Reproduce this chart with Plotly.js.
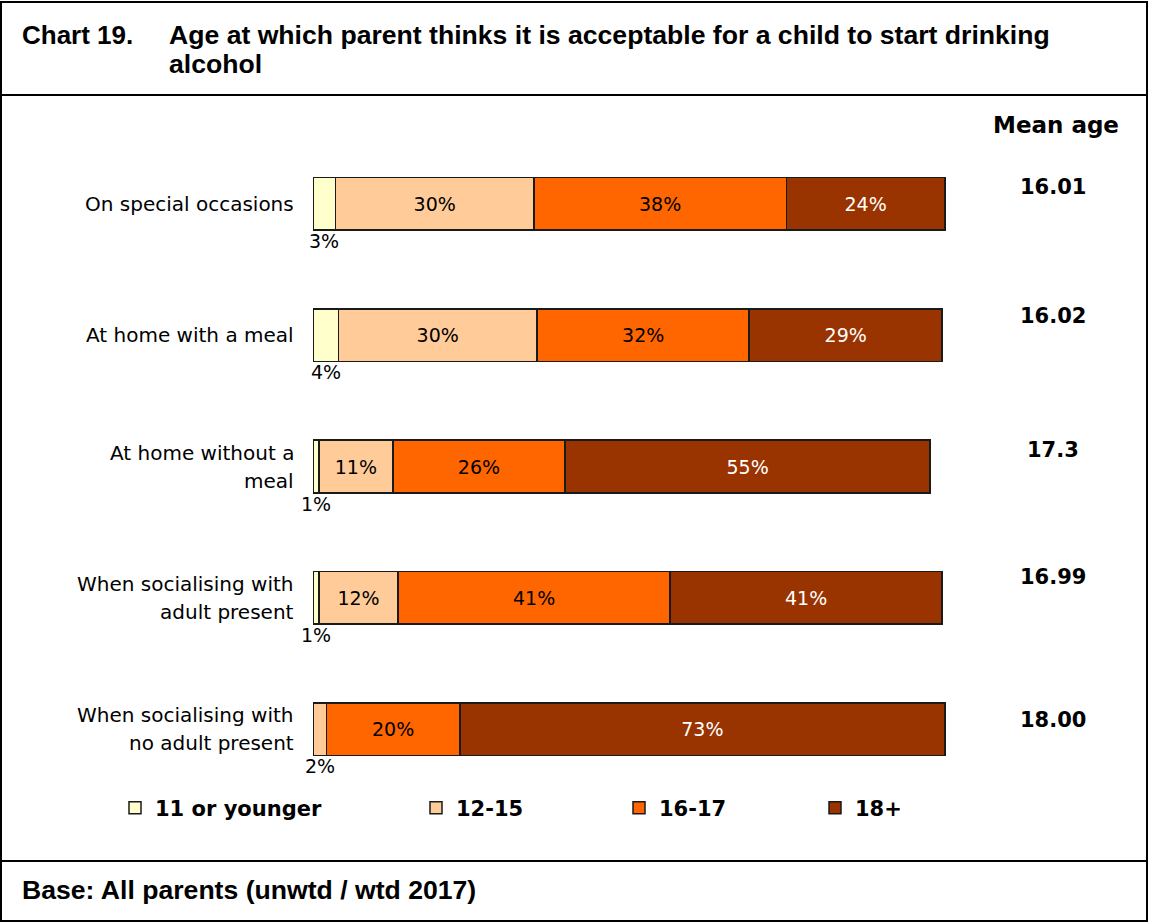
<!DOCTYPE html>
<html>
<head>
<meta charset="utf-8">
<script src="https://cdn.plot.ly/plotly-3.0.1.min.js"></script>
<style>
html,body{margin:0;padding:0;background:#fff;}
#chart{width:1149px;height:923px;}
</style>
</head>
<body>
<div id="chart"></div>
<script>
// ---- data ----
const categories = ["On special occasions", "At home with a meal", "At home without a<br>meal", "When socialising with<br>adult present", "When socialising with<br>no adult present"];
const seriesNames = ["11 or younger", "12-15", "16-17", "18+"];
const age11OrYounger = [3.4, 3.8, 0.9, 0.9, 0];
const age12to15 = [29.8, 29.9, 11.1, 11.9, 2.0];
const age16to17 = [38.0, 31.9, 25.9, 40.9, 20.1];
const age18plus = [23.8, 29.0, 54.9, 40.9, 72.9];
const meanAge = ["16.01", "16.02", "17.3", "16.99", "18.00"];
const chartTitleLines = ["Age at which parent thinks it is acceptable for a child to start drinking", "alcohol"];
const chartNumber = "Chart 19.";
const baseText = "Base: All parents (unwtd / wtd 2017)";
const meanHeader = "Mean age";

// ---- styling / layout constants ----
const W = 1149, H = 923;
const M = {l: 313, r: 171, t: 138, b: 128};
const PW = W - M.l - M.r, PH = H - M.t - M.b;
const px2x = p => (p - M.l) / PW;
const px2y = p => 1 - (p - M.t) / PH;
const colors = ["#FFFFCC", "#FFCC99", "#FF6600", "#993300"];
const textColors = ["#000000", "#000000", "#000000", "#FFFFFF"];
const FONT = "DejaVu Sans, Verdana, sans-serif";
const ARIAL = "Liberation Sans, Arial, sans-serif";
const meanShift = [17, 19, 17, 21, 9];
const legendX = [115, 416, 619, 815];
const titleLineY = [35, 64];

const series = [age11OrYounger, age12to15, age16to17, age18plus];

const traces = series.map((vals, i) => ({
  type: "bar",
  orientation: "h",
  name: seriesNames[i],
  y: categories,
  x: vals,
  width: 0.4,
  marker: {color: colors[i], line: {color: "#1a1a1a", width: 1.5}},
  text: vals.map(v => v >= 5 ? Math.round(v) + "%" : ""),
  textposition: "inside",
  insidetextanchor: "middle",
  textangle: 0,
  constraintext: "none",
  textfont: {family: FONT, size: 19, color: textColors[i]},
  hoverinfo: "none",
  legend: i === 0 ? "legend" : "legend" + (i + 1)
}));

const annotations = [];
// title
annotations.push({xref: "paper", yref: "paper", x: px2x(20), y: px2y(titleLineY[0]), xanchor: "left", yanchor: "middle",
  text: "<b>" + chartNumber + "</b>", showarrow: false, font: {family: ARIAL, size: 26, color: "#000"}});
chartTitleLines.forEach((t, k) => {
  annotations.push({xref: "paper", yref: "paper", x: px2x(167), y: px2y(titleLineY[k]), xanchor: "left", yanchor: "middle", align: "left",
    text: "<b>" + t + "</b>", showarrow: false, font: {family: ARIAL, size: 26.6, color: "#000"}});
});
// footer
annotations.push({xref: "paper", yref: "paper", x: px2x(20), y: px2y(890), xanchor: "left", yanchor: "middle",
  text: "<b>" + baseText + "</b>", showarrow: false, font: {family: ARIAL, size: 26.6, color: "#000"}});
// mean header
annotations.push({xref: "paper", yref: "paper", x: px2x(1056), y: px2y(125), xanchor: "center", yanchor: "middle",
  text: "<b>" + meanHeader + "</b>", showarrow: false, font: {family: FONT, size: 23, color: "#000"}});
// category labels (two lines with wider spacing)
categories.forEach((c, r) => {
  const lines = c.split("<br>");
  const n = lines.length;
  lines.forEach((ln, k) => {
    annotations.push({xref: "paper", yref: "y", x: px2x(296), y: c, xanchor: "right", yanchor: "middle",
      yshift: ((n - 1) / 2 - k) * 28, text: ln, showarrow: false, font: {family: FONT, size: 20, color: "#000"}});
  });
  // mean age
  annotations.push({xref: "paper", yref: "y", x: px2x(1053), y: c, xanchor: "center", yanchor: "middle",
    yshift: meanShift[r], text: "<b>" + meanAge[r] + "</b>", showarrow: false, font: {family: FONT, size: 21, color: "#000"}});
  // small segment labels below bars
  let start = 0;
  series.forEach((vals, i) => {
    const v = vals[r];
    if (v > 0 && v < 5) {
      annotations.push({xref: "x", yref: "y", x: start + v / 2, y: c, xanchor: "center", yanchor: "middle",
        yshift: -37, text: Math.round(v) + "%", showarrow: false, font: {family: FONT, size: 19, color: "#000"}});
    }
    start += v;
  });
});

const lineStyle = {color: "#000", width: 2};
const shapes = [
  {type: "rect", xref: "paper", yref: "paper", x0: px2x(1), x1: px2x(1147), y0: px2y(2), y1: px2y(921), line: lineStyle},
  {type: "line", xref: "paper", yref: "paper", x0: px2x(1), x1: px2x(1147), y0: px2y(95), y1: px2y(95), line: lineStyle},
  {type: "line", xref: "paper", yref: "paper", x0: px2x(1), x1: px2x(1147), y0: px2y(861), y1: px2y(861), line: lineStyle}
];

const layout = {
  width: W, height: H,
  margin: M,
  paper_bgcolor: "#fff", plot_bgcolor: "#fff",
  barmode: "stack",
  showlegend: true,
  xaxis: {range: [0, 100], visible: false, fixedrange: true},
  yaxis: {type: "category", range: [4.5, -0.5], showticklabels: false, showgrid: false, zeroline: false, fixedrange: true},
  annotations: annotations,
  shapes: shapes,
  font: {family: FONT, color: "#000"}
};
seriesNames.forEach((s, i) => {
  const key = i === 0 ? "legend" : "legend" + (i + 1);
  layout[key] = {orientation: "h", x: px2x(legendX[i]), y: px2y(808), xanchor: "left", yanchor: "middle",
    bgcolor: "rgba(0,0,0,0)", borderwidth: 0, itemclick: false, itemdoubleclick: false,
    font: {family: FONT, size: 21, color: "#000", weight: "bold"}};
});

Plotly.newPlot("chart", traces, layout, {displayModeBar: false, staticPlot: true});
</script>
</body>
</html>
